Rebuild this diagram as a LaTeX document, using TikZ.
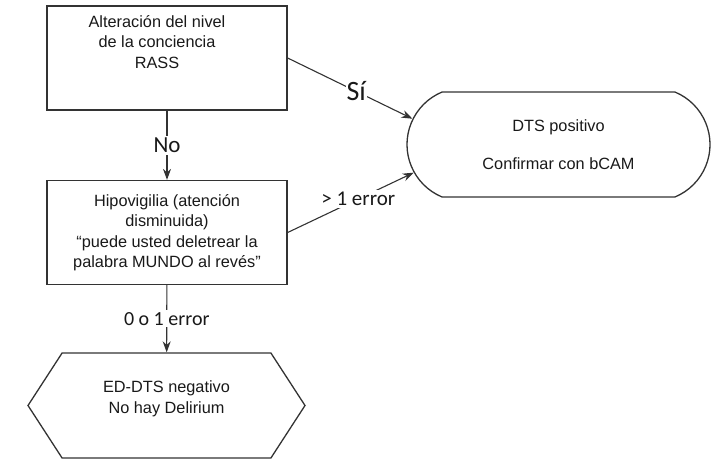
\documentclass[tikz,border=0pt]{standalone}
\usepackage{fontspec}
\setmainfont{Liberation Sans}
\newfontfamily\calib{Carlito}
\usetikzlibrary{shapes.misc,shapes.symbols,arrows.meta}

\tikzset{every picture/.style={line width=0.75pt}}
\tikzset{
	caja/.style={draw=black!80,line width=1.3pt,minimum width=240pt,minimum height=104pt,inner sep=0pt,align=center,text=black!90,font=\fontsize{16.3}{20.5}\selectfont},
	hexa/.style={caja,shape=signal,signal to=west and east,signal pointer angle=114,minimum width=277pt,minimum height=105pt},
	pildora/.style={caja,shape=rounded rectangle,rounded rectangle arc length=135,minimum width=303pt,minimum height=105pt},
	flecha/.style={draw=black!80,line width=1.1pt,-{Stealth[length=11pt,width=8pt]}},
	etiq/.style={fill=white,inner sep=2pt,text=black!90,font=\calib\fontsize{20}{20}\selectfont},
}

\begin{document}
\begin{tikzpicture}[x=1pt,y=-1pt,yscale=1,xscale=1]
				\useasboundingbox (0,0) rectangle (719,463);
				\node[caja] (rass) at (167,58) {\parbox[t][104pt][t]{236pt}{\centering\advance\rightskip 20pt\vspace*{9pt}Alteración del nivel\\de la conciencia\\RASS}}; %箱1
				\node[caja] (hipo) at (167,232.5) {Hipovigilia (atención\\disminuida)\\“puede usted deletrear la\\palabra MUNDO al revés”}; %箱2
				\node[hexa] (neg) at (166.5,405.5) {ED-DTS negativo\\No hay Delirium\\[-4pt]\mbox{}}; %六角形
				\node[pildora] (dts) at (558.5,144.5) {DTS positivo\\[18pt]Confirmar con bCAM}; %楕円
				\draw[flecha] (rass) -- node[etiq,font=\calib\fontsize{23}{23}\selectfont]{No} (hipo); %No
				\draw[flecha] (hipo) -- node[etiq]{0 o 1 error} (neg); %0 o 1
				\draw[flecha] (rass.east) -- node[etiq,pos=0.55,inner sep=1pt,font=\calib\fontsize{28}{28}\selectfont]{Sí} (dts.170); %Sí
				\draw[flecha] (hipo.east) -- node[etiq,pos=0.56,font=\calib\fontsize{21}{21}\selectfont]{> 1 error} (dts.191); %>1
			\end{tikzpicture}
\end{document}
